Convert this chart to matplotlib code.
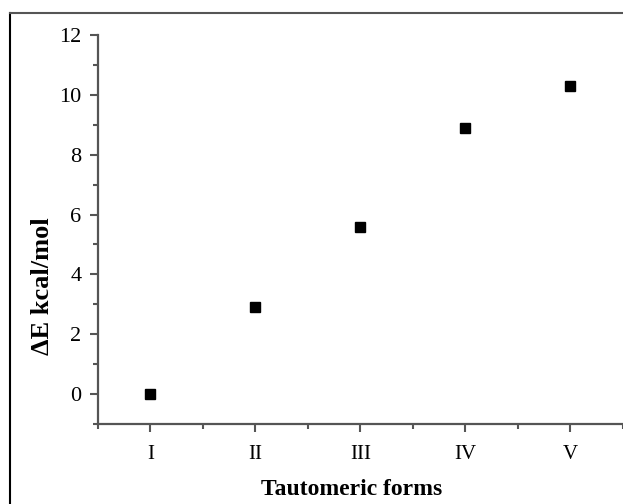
import matplotlib
matplotlib.use('Agg')
import matplotlib.pyplot as plt
from matplotlib.lines import Line2D
from matplotlib.ticker import MultipleLocator
import numpy as np

# data
forms = ['I', 'II', 'III', 'IV', 'V']
delta_e = [0.0, 2.9, 5.6, 8.9, 10.3]

plt.rcParams['font.family'] = ['Liberation Serif', 'DejaVu Serif']

fig = plt.figure(figsize=(6.23, 5.04), dpi=100)
ax = fig.add_axes([98 / 623, 1 - 424 / 504, (622.5 - 98) / 623, (424 - 35) / 504])

x = np.arange(1, len(forms) + 1)
ax.plot(x, delta_e, linestyle='none', marker='s', markersize=6.5, color='black')

ax.set_xlim(0.5, 5.5)
ax.set_ylim(-1, 12)
ax.set_xticks(x)
ax.set_xticklabels(forms)
ax.xaxis.set_minor_locator(MultipleLocator(0.5))
ax.set_yticks(range(0, 13, 2))
ax.yaxis.set_minor_locator(MultipleLocator(1))

axis_col = '#555555'
for side in ['top', 'right']:
    ax.spines[side].set_visible(False)
for side in ['left', 'bottom']:
    ax.spines[side].set_color(axis_col)
    ax.spines[side].set_linewidth(1.6)

ax.tick_params(which='major', direction='out', length=6, width=1.5, color=axis_col,
               pad=6, labelcolor='black')
ax.tick_params(axis='y', which='major', labelsize=16)
ax.tick_params(axis='x', which='major', labelsize=15, pad=9)
ax.tick_params(which='minor', direction='out', length=3.5, width=1.5, color=axis_col)

ax.set_xlabel('Tautomeric forms', fontsize=17, fontweight='bold')
ax.set_ylabel('ΔE kcal/mol', fontsize=19, fontweight='bold')
ax.xaxis.set_label_coords(0.484, -0.142)
ax.yaxis.set_label_coords(-0.083, 0.355)

# outer frame (top and left edges only visible)
fig.add_artist(Line2D([10 / 623, 10 / 623], [0, 1 - 13 / 504], transform=fig.transFigure,
                      color='black', linewidth=1.5))
fig.add_artist(Line2D([10 / 623, 1], [1 - 13 / 504, 1 - 13 / 504], transform=fig.transFigure,
                      color='#555555', linewidth=1.5))

fig.savefig('out.png', dpi=100)
